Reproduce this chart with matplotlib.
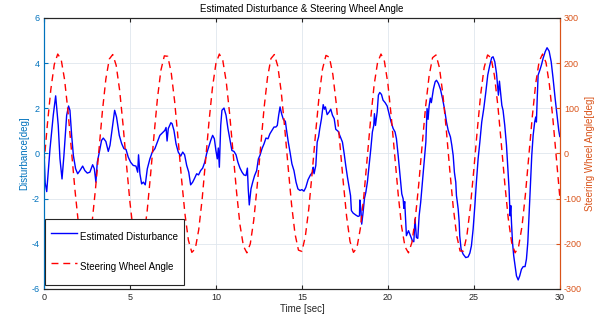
import matplotlib
matplotlib.use('Agg')
import matplotlib.pyplot as plt

plt.rcParams['font.family'] = ['Liberation Sans', 'DejaVu Sans']
plt.rcParams['axes.unicode_minus'] = False

# 估计扰动
t_dist = [0.00, 0.07, 0.16, 0.35, 0.54, 0.68, 0.83, 0.93, 1.05, 1.16, 1.32, 1.43, 1.51, 1.61, 1.71,
          1.84, 1.96, 2.09, 2.25, 2.38, 2.52, 2.67, 2.83, 2.93, 3.02, 3.10, 3.22, 3.35, 3.45, 3.60,
          3.74, 3.84, 3.99, 4.11, 4.22, 4.38, 4.52, 4.65, 4.77, 4.90, 5.04, 5.19, 5.35, 5.45, 5.50,
          5.58, 5.68, 5.78, 5.89, 6.01, 6.16, 6.30, 6.45, 6.59, 6.74, 6.90, 7.03, 7.10, 7.16, 7.23,
          7.38, 7.45, 7.56, 7.68, 7.81, 7.95, 8.07, 8.18, 8.30, 8.42, 8.53, 8.65, 8.76, 8.88, 8.99,
          9.11, 9.23, 9.35, 9.46, 9.58, 9.70, 9.81, 9.91, 10.00, 10.08, 10.14, 10.20, 10.28, 10.35, 10.47,
          10.59, 10.70, 10.82, 10.93, 11.05, 11.17, 11.28, 11.40, 11.52, 11.63, 11.75, 11.83, 11.88, 11.94, 12.04,
          12.14, 12.25, 12.37, 12.47, 12.56, 12.68, 12.80, 12.91, 13.03, 13.14, 13.26, 13.38, 13.49, 13.57, 13.65,
          13.73, 13.82, 13.92, 14.04, 14.11, 14.21, 14.31, 14.42, 14.54, 14.66, 14.77, 14.89, 15.00, 15.12, 15.23,
          15.36, 15.50, 15.62, 15.66, 15.71, 15.81, 15.89, 15.97, 16.04, 16.14, 16.24, 16.31, 16.37, 16.47, 16.59,
          16.68, 16.78, 16.88, 16.97, 17.11, 17.24, 17.36, 17.46, 17.55, 17.65, 17.75, 17.83, 17.88, 17.98, 18.14,
          18.27, 18.35, 18.37, 18.43, 18.48, 18.56, 18.64, 18.72, 18.81, 18.91, 19.01, 19.10, 19.18, 19.22, 19.28,
          19.38, 19.45, 19.53, 19.63, 19.72, 19.84, 19.96, 20.07, 20.19, 20.31, 20.42, 20.50, 20.60, 20.69, 20.75,
          20.81, 20.89, 20.93, 20.98, 21.08, 21.20, 21.31, 21.43, 21.51, 21.58, 21.66, 21.74, 21.82, 21.91, 22.01,
          22.11, 22.21, 22.28, 22.34, 22.40, 22.47, 22.53, 22.58, 22.65, 22.75, 22.83, 22.94, 23.06, 23.18, 23.29,
          23.41, 23.51, 23.64, 23.72, 23.80, 23.87, 23.95, 23.99, 24.03, 24.09, 24.15, 24.18, 24.26, 24.38, 24.53,
          24.67, 24.77, 24.86, 24.96, 25.06, 25.15, 25.25, 25.35, 25.46, 25.58, 25.70, 25.81, 25.93, 26.04, 26.12,
          26.22, 26.32, 26.40, 26.43, 26.49, 26.55, 26.63, 26.70, 26.80, 26.90, 26.97, 27.05, 27.11, 27.15, 27.19,
          27.25, 27.32, 27.40, 27.48, 27.58, 27.67, 27.77, 27.87, 27.98, 28.06, 28.14, 28.21, 28.29, 28.37, 28.45,
          28.54, 28.60, 28.64, 28.68, 28.74, 28.84, 28.93, 29.03, 29.15, 29.26, 29.38, 29.50, 29.61, 29.73, 29.84,
          29.94, 30.00]
disturbance = [0.1, -1.3, -1.69, 0.2, 1.69, 2.55, 1.24, -0.24, -1.13, -0.09, 1.69, 2.1, 1.91, 0.8, -0.09,
               -0.68, -0.9, -0.76, -0.56, -0.76, -0.87, -0.83, -0.5, -0.68, -1.27, -0.39, 0.06, 0.58, 0.68, 0.53,
               0.09, 0.36, 1.24, 1.91, 1.61, 0.8, 0.43, 0.21, 0.18, -0.16, -0.39, -0.53, -0.56, -0.83, -0.06,
               -0.9, -1.35, -1.27, -1.39, -0.68, -0.24, 0.06, 0.21, 0.5, 0.8, 0.92, 1.02, 1.15, 0.55, 1.1,
               1.36, 1.32, 1.02, 0.43, 0.06, -0.12, 0.06, -0.06, -0.53, -0.83, -1.39, -1.27, -1.1, -0.9, -0.95,
               -0.76, -0.65, -0.39, -0.01, 0.28, 0.58, 0.8, 0.65, 0.13, -0.24, 0.24, -0.61, 1.24, 1.91, 2.01,
               1.69, 1.1, 0.58, 0.13, 0.09, -0.06, -0.39, -0.65, -0.83, -0.95, -0.98, -0.65, -1.57, -2.28, -1.57,
               -1.27, -0.98, -0.76, -0.24, -0.09, 0.21, 0.43, 0.68, 0.65, 0.87, 1.02, 1.17, 1.17, 1.24, 1.69,
               2.06, 1.76, 1.51, 1.42, 1.02, 0.5, 0.06, -0.46, -0.76, -1.27, -1.57, -1.64, -1.6, -1.67, -1.5,
               -1.16, -0.95, -0.83, -0.61, -0.9, -0.53, 0.5, 0.73, 1.1, 1.54, 2.16, 1.96, 2.06, 1.72, 1.84,
               1.96, 1.69, 1.54, 1.07, 0.98, 0.73, 0.5, -0.01, -0.53, -1.05, -1.5, -1.87, -2.53, -2.64, -2.73,
               -2.79, -2.76, -2.06, -2.46, -3.13, -2.61, -1.99, -1.72, -1.27, -0.53, 0.21, 0.95, 1.24, 1.76, 1.24,
               1.84, 2.58, 2.7, 2.61, 2.36, 2.25, 2.1, 1.76, 1.39, 1.1, 0.95, 0.65, -0.09, -0.83, -1.27,
               -1.79, -2.01, -2.43, -2.13, -3.64, -3.42, -3.64, -3.87, -3.91, -2.9, -3.72, -3.76, -2.76, -2.16, -1.27,
               -0.39, 0.5, 1.99, 1.51, 2.1, 2.45, 2.25, 2.5, 2.85, 3.17, 3.24, 3.1, 2.84, 2.43, 1.99,
               1.39, 1.02, 0.73, 0.36, -0.09, -0.83, -1.27, -1.87, -2.09, -2.46, -3.05, -3.64, -4.24, -4.46, -4.61,
               -4.58, -4.41, -4.09, -3.35, -2.31, -1.27, -0.24, 0.5, 1.39, 1.99, 2.73, 3.47, 3.91, 4.24, 4.28,
               4.06, 3.54, 2.87, 2.58, 3.2, 2.73, 2.13, 1.91, 1.24, 0.36, -0.53, -1.57, -2.76, -2.31, -3.05,
               -3.94, -4.53, -4.98, -5.42, -5.6, -5.42, -5.13, -5.01, -5.01, -4.68, -3.94, -2.76, -1.42, -0.09, 0.8,
               1.39, 1.61, 1.39, 2.28, 3.47, 3.69, 3.91, 4.21, 4.5, 4.68, 4.53, 4.06, 3.32, 2.43, 1.69,
               1.02, 0.75]

# 方向盘转角, 每0.2秒一个点
t_steer = [i * 0.2 for i in range(151)]
steer_angle = [-22, 65, 142, 197, 220, 208, 163, 92, 6, -80, -154, -203, -220, -202, -152, -77,
               9, 94, 165, 209, 219, 195, 140, 63, -25, -108, -175, -213, -218, -188, -128, -47,
               40, 122, 184, 216, 215, 179, 115, 32, -56, -134, -192, -219, -211, -169, -101, -16,
               71, 146, 199, 220, 206, 159, 87, 1, -85, -158, -205, -220, -200, -148, -72,
               15, 100, 168, 210, 219, 193, 136, 57, -30, -113, -178, -214, -217, -184, -123, -42,
               46, 126, 187, 217, 213, 175, 110, 26, -61, -139, -195, -219, -209, -166, -96, -11,
               76, 151, 201, 220, 204, 155, 81, -5, -90, -162, -207, -220, -197, -143, -67,
               21, 105, 172, 212, 218, 190, 131, 52, -36, -118, -181, -216, -216, -181, -118, -36,
               51, 131, 190, 218, 212, 172, 105, 21, -66, -143, -197, -220, -207, -162, -91, -5,
               81, 155, 204, 220, 201, 151, 76, -11, -96]

left_color = '#0072BD'
right_color = '#D95319'
dark = '#262626'

fig = plt.figure(figsize=(6.04, 3.2), dpi=100)
ax = fig.add_axes([0.0728, 0.097, 0.854, 0.847])
ax2 = ax.twinx()

l1, = ax.plot(t_dist, disturbance, color='blue', lw=1.0, label='Estimated Disturbance')
l2, = ax2.plot(t_steer, steer_angle, color='red', lw=1.0, ls=(0, (5, 3.5)), label='Steering Wheel Angle')

ax.set_xlim(0, 30)
ax.set_ylim(-6, 6)
ax2.set_ylim(-300, 300)
ax.set_xticks(range(0, 31, 5))
ax.set_yticks(range(-6, 7, 2))
ax2.set_yticks(range(-300, 301, 100))

ax.grid(True, color='#dfe6ee', lw=0.6)
ax.set_axisbelow(True)

ax.tick_params(axis='x', direction='in', length=3, width=0.8, colors=dark, labelsize=6.5, top=True, pad=3)
ax.tick_params(axis='y', direction='in', length=3, width=0.8, colors=left_color, labelsize=6.5, pad=3)
ax2.tick_params(axis='y', direction='in', length=3, width=0.8, colors=right_color, labelsize=6.5, pad=3)

for a in (ax, ax2):
    a.spines['top'].set_color(dark)
    a.spines['bottom'].set_color(dark)
    a.spines['left'].set_color(left_color)
    a.spines['right'].set_color(right_color)
    for s in a.spines.values():
        s.set_linewidth(0.8)

ax.set_title('Estimated Disturbance & Steering Wheel Angle', fontsize=7, color='black', pad=4)
ax.set_xlabel('Time [sec]', fontsize=7, color=dark, labelpad=1)
ax.set_ylabel('Disturbance[deg]', fontsize=7, color=left_color, labelpad=2)
ax2.set_ylabel('Steering Wheel Angle[deg]', fontsize=7, color=right_color, labelpad=2)

leg = ax2.legend(handles=[l1, l2], loc='lower left', bbox_to_anchor=(0.002, 0.013),
                 borderaxespad=0, fontsize=7, fancybox=False, framealpha=1,
                 edgecolor=dark, labelspacing=0.57, handlelength=2.7, handleheight=3.5,
                 borderpad=0.6, handletextpad=0.3)
leg.get_frame().set_linewidth(0.8)

fig.savefig('out.png', dpi=100)
